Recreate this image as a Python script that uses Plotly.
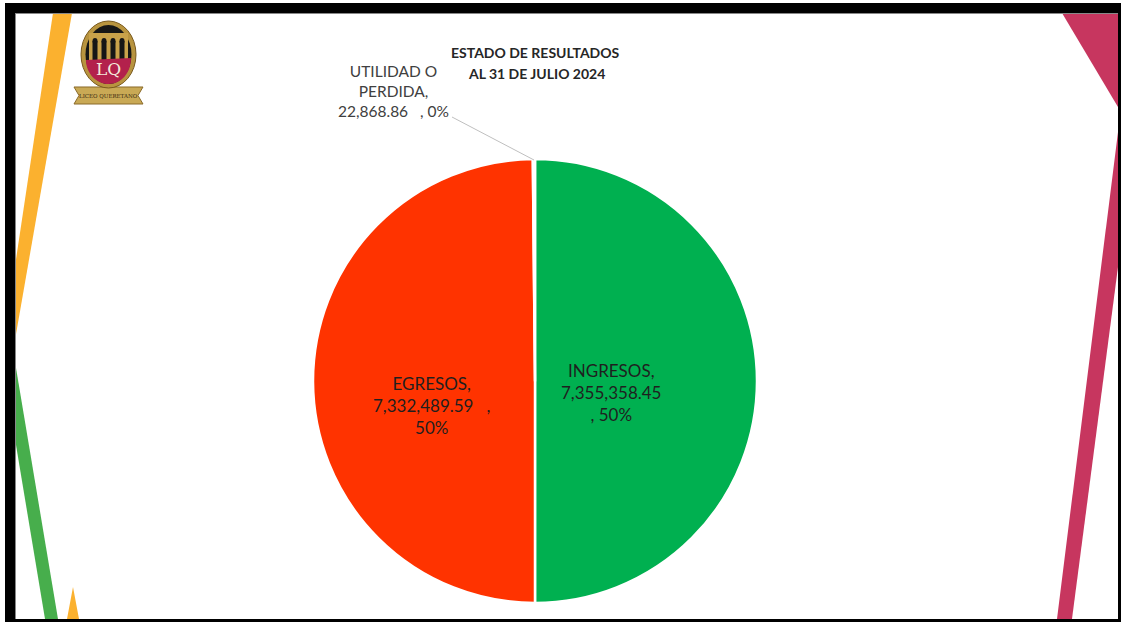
import plotly.graph_objects as go

W, H = 1121, 624

# ---------------- data ----------------
categories = ["INGRESOS", "EGRESOS", "UTILIDAD O PERDIDA"]
values = [7355358.45, 7332489.59, 22868.86]
slice_colors = ["#00B050", "#FF3300", "#A5A5A5"]
title_lines = ["ESTADO DE RESULTADOS", "AL 31 DE JULIO 2024"]

NB = "\u00a0"
total = sum(values)
pcts = [round(v / total * 100) for v in values]
fmt = [f"{v:,.2f}" for v in values]

slice_text = [
    f"{categories[0]},<br>{fmt[0]}<br>, {pcts[0]}%",
    f"{categories[1]},<br>{fmt[1]}{NB*3},<br>{pcts[1]}%",
    f"UTILIDAD O<br>PERDIDA,<br>{fmt[2]}{NB*3}, {pcts[2]}%",
]


def X(px):
    return px / W


def Y(py):
    return 1 - py / H


def poly(pts):
    return "M " + " L ".join(f"{X(a):.5f},{Y(b):.5f}" for a, b in pts) + " Z"


FONT = "Lato, 'Open Sans', sans-serif"

# pie geometry (pixels)
cx, cy, r = 535, 381, 222

fig = go.Figure()
fig.add_trace(go.Pie(
    labels=categories,
    values=values,
    sort=False,
    direction="clockwise",
    rotation=0,
    marker=dict(colors=slice_colors, line=dict(color="white", width=2.5)),
    textinfo="none",
    hoverinfo="skip",
    showlegend=False,
    domain=dict(x=[X(cx - r), X(cx + r)], y=[Y(cy + r), Y(cy - r)]),
))

shapes = []

# decorative stripes
shapes.append(dict(type="path", path=poly([(53, 13), (72, 13), (15, 340), (15, 266)]),
                   fillcolor="#FBB12F", line=dict(width=0), layer="below"))
shapes.append(dict(type="path", path=poly([(15, 362), (58, 619), (45, 619), (15, 439)]),
                   fillcolor="#47AE4C", line=dict(width=0), layer="below"))
shapes.append(dict(type="path", path=poly([(67, 619), (79, 619), (73, 587)]),
                   fillcolor="#FBB12F", line=dict(width=0), layer="below"))
shapes.append(dict(type="path", path=poly([(1062, 13), (1118, 13), (1118, 107)]),
                   fillcolor="#C7365F", line=dict(width=0), layer="below"))
shapes.append(dict(type="path", path=poly([(1118, 132), (1118, 267), (1072, 619), (1057, 619)]),
                   fillcolor="#C7365F", line=dict(width=0), layer="below"))

# leader line for small slice
shapes.append(dict(type="line", xref="paper", yref="paper",
                   x0=X(452), y0=Y(117), x1=X(534), y1=Y(cy - r + 1),
                   line=dict(color="#BFBFBF", width=1)))

# logo approximation
shapes.append(dict(type="path",
                   path=poly([(74, 87), (143, 87), (138, 95.5), (143, 104), (74, 104), (79, 95.5)]),
                   fillcolor="#C9A955", line=dict(color="#8A6A2A", width=1)))
shapes.append(dict(type="circle", xref="paper", yref="paper",
                   x0=X(81), x1=X(136), y0=Y(88), y1=Y(21),
                   fillcolor="#B8943F", line=dict(color="#7A5A1E", width=1)))
shapes.append(dict(type="circle", xref="paper", yref="paper",
                   x0=X(85.5), x1=X(131.5), y0=Y(84), y1=Y(25),
                   fillcolor="#161616", line=dict(width=0)))
shapes.append(dict(type="rect", xref="paper", yref="paper",
                   x0=X(89), x1=X(128), y0=Y(60), y1=Y(33),
                   fillcolor="#C9A24A", line=dict(width=0)))
for ax0 in (91, 100, 109, 118):
    shapes.append(dict(type="rect", xref="paper", yref="paper",
                       x0=X(ax0 + 1.5), x1=X(ax0 + 6.5), y0=Y(60), y1=Y(41),
                       fillcolor="#161616", line=dict(width=0)))
    shapes.append(dict(type="circle", xref="paper", yref="paper",
                       x0=X(ax0 + 1.5), x1=X(ax0 + 6.5), y0=Y(44), y1=Y(38),
                       fillcolor="#161616", line=dict(width=0)))
shapes.append(dict(type="path",
                   path=f"M {X(86):.5f},{Y(60):.5f} L {X(131):.5f},{Y(58):.5f} "
                        f"C {X(131):.5f},{Y(73):.5f} {X(121):.5f},{Y(84):.5f} {X(108.5):.5f},{Y(84):.5f} "
                        f"C {X(96):.5f},{Y(84):.5f} {X(86):.5f},{Y(73):.5f} {X(86):.5f},{Y(60):.5f} Z",
                   fillcolor="#B3214C", line=dict(width=0)))

# frame
shapes += [
    dict(type="rect", xref="paper", yref="paper", x0=X(5), x1=X(1121), y0=Y(13), y1=Y(3),
         fillcolor="black", line=dict(width=0)),
    dict(type="rect", xref="paper", yref="paper", x0=X(5), x1=X(15), y0=Y(622), y1=Y(3),
         fillcolor="black", line=dict(width=0)),
    dict(type="rect", xref="paper", yref="paper", x0=X(5), x1=X(1121), y0=Y(622), y1=Y(619),
         fillcolor="black", line=dict(width=0)),
    dict(type="rect", xref="paper", yref="paper", x0=X(1118), x1=X(1121), y0=Y(622), y1=Y(3),
         fillcolor="black", line=dict(width=0)),
    dict(type="line", xref="paper", yref="paper", x0=X(15.5), x1=X(15.5), y0=Y(619), y1=Y(13),
         line=dict(color="#888888", width=1)),
    dict(type="line", xref="paper", yref="paper", x0=X(15), x1=X(1118), y0=Y(13.5), y1=Y(13.5),
         line=dict(color="#888888", width=1)),
]


def ann(text, px, py, size, color, family=FONT, **kw):
    return dict(text=text, x=X(px), y=Y(py), xref="paper", yref="paper", showarrow=False,
                xanchor="center", yanchor="middle", align="center",
                font=dict(family=family, size=size, color=color), **kw)


annotations = [
    ann("<b>" + title_lines[0] + "</b>", 535, 52, 14, "#262626"),
    ann("<b>" + title_lines[1] + "</b>", 536, 73, 14, "#262626"),
    # slice labels (positioned relative to pie centre)
    ann(slice_text[0], cx + 76, cy + 11, 17, "#1F1F1F"),
    ann(slice_text[1], cx - 104, cy + 24, 17, "#1F1F1F"),
    ann(slice_text[2], 393, 91, 15.5, "#404040"),
    # logo text
    ann("LQ", 108.5, 69, 17, "#F3EBDD", family="DejaVu Serif, serif"),
    ann("LICEO QUERETANO", 108.5, 95.5, 5.5, "#3A2A10", family="DejaVu Serif, serif"),
]

fig.update_layout(
    width=W, height=H,
    margin=dict(l=0, r=0, t=0, b=0),
    paper_bgcolor="white",
    plot_bgcolor="white",
    shapes=shapes,
    annotations=annotations,
    showlegend=False,
)

fig.write_html("out.html")
